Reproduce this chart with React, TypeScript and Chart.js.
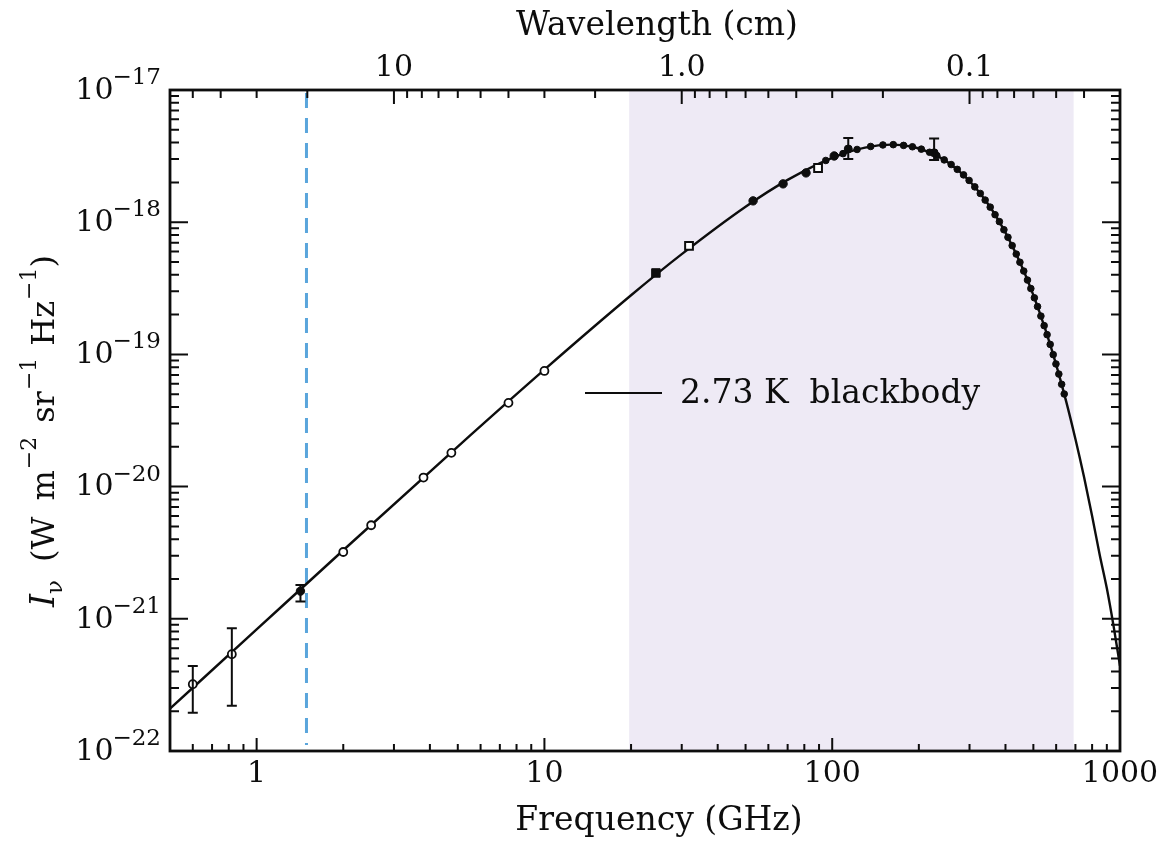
import React, { useEffect, useRef } from "react";
import { Chart, registerables } from "chart.js";

Chart.register(...registerables);

const FONT = "'DejaVu Serif', 'Liberation Serif', serif";
const INK = "#0d0d0d";

// 2.73 K blackbody curve (GHz, W m^-2 sr^-1 Hz^-1)
const curveFrequencyGHz = [0.5, 1, 2, 5, 10, 20, 30, 50, 70, 100, 130, 160, 190, 220, 250, 300, 350, 400, 450, 500, 550, 600, 650, 700, 750, 800, 850, 900, 950, 1000];
const curveIntensity = [2.09e-22, 8.31e-22, 3.3e-21, 2.01e-20, 7.67e-20, 2.8e-19, 5.73e-19, 1.31e-18, 2.09e-18, 3.07e-18, 3.67e-18, 3.86e-18, 3.72e-18, 3.35e-18, 2.88e-18, 2.05e-18, 1.35e-18, 8.34e-19, 4.93e-19, 2.81e-19, 1.55e-19, 8.36e-20, 4.41e-20, 2.29e-20, 1.18e-20, 6.0e-21, 3.05e-21, 1.7e-21, 8.8e-22, 4.4e-22];

// low-frequency ground-based points (open circles)
const radioFrequencyGHz = [0.6, 0.82, 2.0, 2.5, 3.8, 4.75, 7.5, 10];
const radioIntensity = [3.2e-22, 5.4e-22, 3.2e-21, 5.1e-21, 1.17e-20, 1.8e-20, 4.3e-20, 7.5e-20];
const radioErrLow = [1.95e-22, 2.2e-22, null, null, null, null, null, null];
const radioErrHigh = [4.4e-22, 8.5e-22, null, null, null, null, null, null];

// filled circles
const filledFrequencyGHz = [1.42, 53.1, 67.5, 81.1, 101.6];
const filledIntensity = [1.62e-21, 1.45e-18, 1.95e-18, 2.36e-18, 3.17e-18];
const filledErrLow = [1.35e-21, null, null, null, null];
const filledErrHigh = [1.8e-21, null, null, null, null];

// squares
const filledSquareFrequencyGHz = [24.4];
const filledSquareIntensity = [4.13e-19];
const openSquareFrequencyGHz = [31.8, 89.3];
const openSquareIntensity = [6.61e-19, 2.57e-18];

// points with larger error bars near the peak
const peakBarFrequencyGHz = [113.7, 226];
const peakBarIntensity = [3.58e-18, 3.35e-18];
const peakBarErrLow = [3.0e-18, 2.95e-18];
const peakBarErrHigh = [4.34e-18, 4.3e-18];

// dense satellite spectrum points
const firasFrequencyGHz = [95, 109, 122, 136, 150, 163, 177, 190, 204, 218, 231, 245, 259, 272, 286, 299, 313, 327, 340, 354, 368, 381, 395, 408, 422, 436, 449, 463, 477, 490, 504, 517, 531, 545, 558, 572, 586, 599, 613, 627, 640];
const firasIntensity = [2.93e-18, 3.3e-18, 3.55e-18, 3.74e-18, 3.84e-18, 3.86e-18, 3.81e-18, 3.72e-18, 3.57e-18, 3.38e-18, 3.19e-18, 2.96e-18, 2.73e-18, 2.51e-18, 2.28e-18, 2.07e-18, 1.85e-18, 1.65e-18, 1.47e-18, 1.3e-18, 1.14e-18, 1.01e-18, 8.77e-19, 7.69e-19, 6.65e-19, 5.74e-19, 4.98e-19, 4.27e-19, 3.65e-19, 3.15e-19, 2.68e-19, 2.3e-19, 1.95e-19, 1.65e-19, 1.41e-19, 1.19e-19, 9.96e-20, 8.47e-20, 7.1e-20, 5.94e-20, 5.02e-20];

// axes
const freqRange = [0.5, 1000];
const freqTickValues = [1, 10, 100, 1000];
const freqTickLabels = ["1", "10", "100", "1000"];
const freqTitle = "Frequency (GHz)";
const wavelengthRange = [0.03, 60];
const wavelengthTickValues = [10, 1, 0.1];
const wavelengthTickLabels = ["10", "1.0", "0.1"];
const wavelengthTitle = "Wavelength (cm)";
const intensityRange = [1e-22, 1e-17];
const intensityTickValues = [1e-22, 1e-21, 1e-20, 1e-19, 1e-18, 1e-17];
const intensityTickBase = "10";
const intensityTickExponents = ["\u221222", "\u221221", "\u221220", "\u221219", "\u221218", "\u221217"];

const shadedBandGHz = [19.7, 690];
const markerLineGHz = 1.49;
const legendLabel = "2.73 K  blackbody";

const pts = (xs: number[], ys: number[]) => xs.map((x, i) => ({ x, y: ys[i] }));

function logTicks(min: number, max: number) {
  const out: { v: number; major: boolean }[] = [];
  for (let e = Math.floor(Math.log10(min)) - 1; e <= Math.ceil(Math.log10(max)); e++) {
    for (let m = 1; m < 10; m++) {
      const v = m * Math.pow(10, e);
      if (v >= min * 0.9999 && v <= max * 1.0001) out.push({ v, major: m === 1 });
    }
  }
  return out;
}

const decorPlugin = {
  id: "decor",
  beforeDatasetsDraw(chart: any) {
    const { ctx, chartArea: a, scales } = chart;
    const x = scales.x;
    ctx.save();
    const x0 = x.getPixelForValue(shadedBandGHz[0]);
    const x1 = x.getPixelForValue(shadedBandGHz[1]);
    ctx.fillStyle = "#EEEAF5";
    ctx.fillRect(x0, a.top, x1 - x0, a.bottom - a.top);
    const xd = x.getPixelForValue(markerLineGHz);
    ctx.strokeStyle = "#5AA5DC";
    ctx.lineWidth = 3;
    ctx.setLineDash([15, 10]);
    ctx.beginPath();
    ctx.moveTo(xd, a.top + 3);
    ctx.lineTo(xd, a.bottom - 6);
    ctx.stroke();
    ctx.restore();
  },
  afterDatasetsDraw(chart: any) {
    const { ctx, scales } = chart;
    const x = scales.x;
    const y = scales.y;
    ctx.save();
    ctx.strokeStyle = INK;
    ctx.lineWidth = 2;
    chart.data.datasets.forEach((ds: any) => {
      if (!ds.errLow) return;
      ds.data.forEach((p: any, i: number) => {
        const lo = ds.errLow[i];
        const hi = ds.errHigh[i];
        if (lo == null || hi == null) return;
        const px = x.getPixelForValue(p.x);
        const yl = y.getPixelForValue(lo);
        const yh = y.getPixelForValue(hi);
        ctx.beginPath();
        ctx.moveTo(px, yl);
        ctx.lineTo(px, yh);
        ctx.moveTo(px - 5, yl);
        ctx.lineTo(px + 5, yl);
        ctx.moveTo(px - 5, yh);
        ctx.lineTo(px + 5, yh);
        ctx.stroke();
      });
    });
    ctx.restore();
  },
  afterDraw(chart: any) {
    const { ctx, chartArea: a, scales } = chart;
    const x = scales.x;
    const x2 = scales.x2;
    const y = scales.y;
    ctx.save();
    ctx.strokeStyle = INK;
    // inward ticks on all four sides
    ctx.lineWidth = 2;
    ctx.beginPath();
    logTicks(freqRange[0], freqRange[1]).forEach(({ v, major }) => {
      const px = x.getPixelForValue(v);
      const len = major ? 13 : 7;
      ctx.moveTo(px, a.bottom);
      ctx.lineTo(px, a.bottom - len);
    });
    logTicks(wavelengthRange[0], wavelengthRange[1]).forEach(({ v, major }) => {
      const px = x2.getPixelForValue(v);
      const len = major ? 14 : 8;
      ctx.moveTo(px, a.top);
      ctx.lineTo(px, a.top + len);
    });
    logTicks(intensityRange[0], intensityRange[1]).forEach(({ v, major }) => {
      const py = y.getPixelForValue(v);
      const len = major ? 18 : 9;
      ctx.moveTo(a.left, py);
      ctx.lineTo(a.left + len, py);
      ctx.moveTo(a.right, py);
      ctx.lineTo(a.right - len, py);
    });
    ctx.stroke();
    // frame
    ctx.lineWidth = 2.8;
    ctx.strokeRect(a.left, a.top, a.right - a.left, a.bottom - a.top);

    ctx.fillStyle = INK;

    // axis titles
    const midX = (a.left + a.right) / 2 + 12;
    ctx.font = `33px ${FONT}`;
    ctx.textAlign = "center";
    ctx.textBaseline = "middle";
    ctx.fillText(freqTitle, midX + 2, 821);
    ctx.fillText(wavelengthTitle, midX, 26);

    // y tick labels with superscript exponents
    intensityTickValues.forEach((v, i) => {
      const py = y.getPixelForValue(v);
      const exp = intensityTickExponents[i];
      ctx.font = `23px ${FONT}`;
      const ew = ctx.measureText(exp).width;
      const right = a.left - 9;
      ctx.textAlign = "left";
      ctx.fillText(exp, right - ew, py - 12);
      ctx.font = `30px ${FONT}`;
      ctx.textAlign = "right";
      ctx.fillText(intensityTickBase, right - ew + 1, py + 1);
    });

    // y axis title: I_nu (W m^-2 sr^-1 Hz^-1)
    const parts = [
      { t: "I", f: `italic 33px ${FONT}`, dy: 0, gap: 0 },
      { t: "\u03BD", f: `23px ${FONT}`, dy: 8, gap: 18 },
      { t: "(W", f: `32px ${FONT}`, dy: 0, gap: 16 },
      { t: "m", f: `32px ${FONT}`, dy: 0, gap: 1 },
      { t: "\u22122", f: `22px ${FONT}`, dy: -18, gap: 14 },
      { t: "sr", f: `32px ${FONT}`, dy: 0, gap: 1 },
      { t: "\u22121", f: `22px ${FONT}`, dy: -18, gap: 12 },
      { t: "Hz", f: `32px ${FONT}`, dy: 0, gap: 1 },
      { t: "\u22121", f: `22px ${FONT}`, dy: -18, gap: 0 },
      { t: ")", f: `32px ${FONT}`, dy: 0, gap: 0 },
    ];
    let total = 0;
    const widths = parts.map((p) => {
      ctx.font = p.f;
      const w = ctx.measureText(p.t).width;
      total += w + p.gap;
      return w;
    });
    ctx.save();
    ctx.translate(54, 431);
    ctx.rotate(-Math.PI / 2);
    ctx.textAlign = "left";
    ctx.textBaseline = "alphabetic";
    let cx = -total / 2;
    parts.forEach((p, i) => {
      ctx.font = p.f;
      ctx.fillText(p.t, cx, p.dy);
      cx += widths[i] + p.gap;
    });
    ctx.restore();

    // in-plot legend for the curve
    const lx = a.left + 415;
    const ly = a.top + 303;
    ctx.lineWidth = 2.2;
    ctx.beginPath();
    ctx.moveTo(lx, ly);
    ctx.lineTo(lx + 77, ly);
    ctx.stroke();
    ctx.font = `33px ${FONT}`;
    ctx.textAlign = "left";
    ctx.textBaseline = "middle";
    ctx.fillText(legendLabel, lx + 95, ly + 1);
    ctx.restore();
  },
};

export default function App() {
  const ref = useRef<HTMLCanvasElement | null>(null);

  useEffect(() => {
    if (!ref.current) return;
    const tickFont = { family: FONT, size: 30 };
    const chart = new Chart(ref.current, {
      type: "line",
      data: {
        datasets: [
          {
            label: "radio",
            data: pts(radioFrequencyGHz, radioIntensity),
            showLine: false,
            pointStyle: "circle",
            pointRadius: 4,
            pointBackgroundColor: "#ffffff",
            pointBorderColor: INK,
            pointBorderWidth: 1.8,
            errLow: radioErrLow,
            errHigh: radioErrHigh,
          } as any,
          {
            label: "filled",
            data: pts(filledFrequencyGHz, filledIntensity),
            showLine: false,
            pointStyle: "circle",
            pointRadius: 4.2,
            pointBackgroundColor: INK,
            pointBorderColor: INK,
            errLow: filledErrLow,
            errHigh: filledErrHigh,
          } as any,
          {
            label: "filledSquare",
            data: pts(filledSquareFrequencyGHz, filledSquareIntensity),
            showLine: false,
            pointStyle: "rect",
            pointRadius: 6,
            pointBackgroundColor: INK,
            pointBorderColor: INK,
          },
          {
            label: "openSquare",
            data: pts(openSquareFrequencyGHz, openSquareIntensity),
            showLine: false,
            pointStyle: "rect",
            pointRadius: 5.5,
            pointBackgroundColor: "#ffffff",
            pointBorderColor: INK,
            pointBorderWidth: 2,
          },
          {
            label: "firas",
            data: pts(firasFrequencyGHz, firasIntensity),
            showLine: false,
            pointStyle: "circle",
            pointRadius: 3.3,
            pointBackgroundColor: INK,
            pointBorderColor: INK,
          },
          {
            label: "peakBars",
            data: pts(peakBarFrequencyGHz, peakBarIntensity),
            showLine: false,
            pointStyle: "circle",
            pointRadius: 4,
            pointBackgroundColor: INK,
            pointBorderColor: INK,
            errLow: peakBarErrLow,
            errHigh: peakBarErrHigh,
          } as any,
          {
            label: "blackbody",
            data: pts(curveFrequencyGHz, curveIntensity),
            borderColor: INK,
            borderWidth: 2.4,
            pointRadius: 0,
            fill: false,
            cubicInterpolationMode: "monotone",
          },
        ],
      },
      options: {
        responsive: false,
        animation: false,
        events: [],
        layout: { padding: { left: 0, right: 48, top: 0, bottom: 0 } },
        plugins: { legend: { display: false }, tooltip: { enabled: false } },
        scales: {
          x: {
            type: "logarithmic",
            position: "bottom",
            min: freqRange[0],
            max: freqRange[1],
            afterBuildTicks: (s: any) => {
              s.ticks = freqTickValues.map((v) => ({ value: v }));
            },
            afterFit: (s: any) => {
              s.height = 94;
            },
            grid: { display: false, drawTicks: false },
            border: { display: false },
            ticks: {
              callback: (_v: any, i: number) => freqTickLabels[i],
              font: tickFont,
              color: INK,
              padding: 5,
              maxRotation: 0,
              autoSkip: false,
            },
            title: { display: false },
          },
          x2: {
            type: "logarithmic",
            position: "top",
            min: wavelengthRange[0],
            max: wavelengthRange[1],
            reverse: true,
            afterBuildTicks: (s: any) => {
              s.ticks = wavelengthTickValues.map((v) => ({ value: v }));
            },
            afterFit: (s: any) => {
              s.height = 90;
            },
            grid: { display: false, drawTicks: false },
            border: { display: false },
            ticks: {
              callback: (_v: any, i: number) => wavelengthTickLabels[i],
              font: tickFont,
              color: INK,
              padding: 4,
              maxRotation: 0,
              autoSkip: false,
            },
            title: { display: false },
          },
          y: {
            type: "logarithmic",
            min: intensityRange[0],
            max: intensityRange[1],
            afterBuildTicks: (s: any) => {
              s.ticks = intensityTickValues.map((v) => ({ value: v }));
            },
            afterFit: (s: any) => {
              s.width = 170;
            },
            grid: { display: false, drawTicks: false },
            border: { display: false },
            ticks: { display: false },
          },
        },
      } as any,
      plugins: [decorPlugin],
    });
    return () => chart.destroy();
  }, []);

  return (
    <div style={{ position: "fixed", left: 0, top: 0, width: 1168, height: 845, background: "#ffffff" }}>
      <canvas ref={ref} width={1168} height={845} style={{ display: "block" }} />
    </div>
  );
}
